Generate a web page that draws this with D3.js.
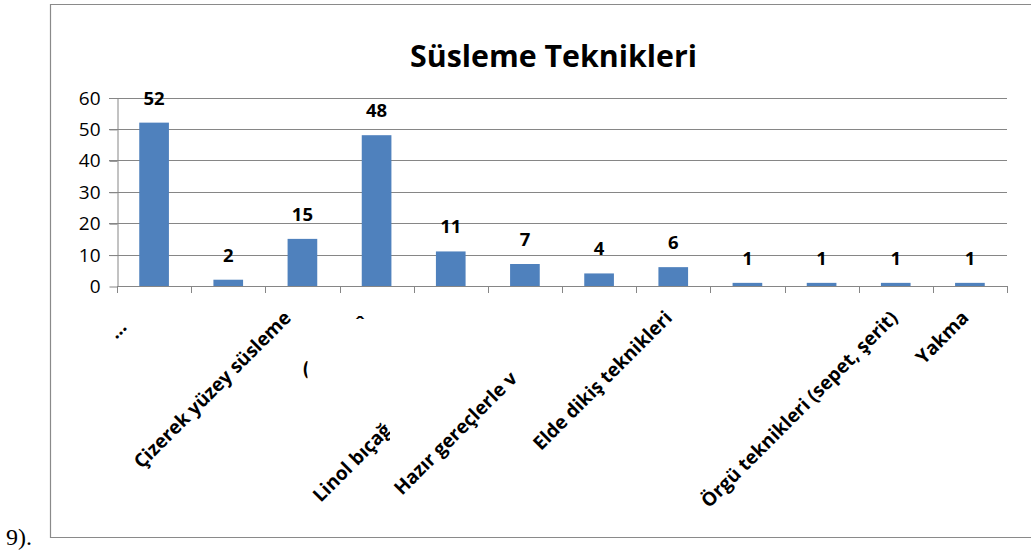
<!DOCTYPE html>
<html>
<head>
<meta charset="utf-8">
<script src="https://cdn.jsdelivr.net/npm/d3@7"></script>
<style>
  body { margin: 0; background: #fff; }
  svg { display: block; }
  text { font-family: "Open Sans", "Noto Sans", sans-serif; }
</style>
</head>
<body>
<svg id="chart" width="1031" height="557"></svg>
<script>
// Chart data
const title = "Süsleme Teknikleri";
const caption = "9).";
const categories = ["…", "Çizerek yüzey süsleme", "(", "ˆ", "Linol bıçağ", "Hazır gereçlerle v",
                    "", "Elde dikiş teknikleri", "", "", "Örgü teknikleri (sepet, şerit)", "Yakma"];
const values = [52, 2, 15, 48, 11, 7, 4, 6, 1, 1, 1, 1];
const yTicks = [0, 10, 20, 30, 40, 50, 60];

// Placement of each category label, relative to its band centre
// (dx, baseline y, rotation, anchor, optional right-hand clip edge)
const labelLayout = [
  { dx: -32,  y: 334, rot: -45, anchor: "middle" },
  { dx: 64,   y: 319, rot: -45, anchor: "end" },
  { dx: 0.6,  y: 375, rot: 0,   anchor: "start", clipX: 307.5 },
  { dx: -16.6,y: 331, rot: 0,   anchor: "middle" },
  { dx: -130, y: 503, rot: -45, anchor: "start", clipX: 390 },
  { dx: -123, y: 496, rot: -45, anchor: "start", clipX: 524 },
  null,
  { dx: 0,    y: 319, rot: -45, anchor: "end" },
  null,
  null,
  { dx: 3,    y: 319, rot: -45, anchor: "end" },
  { dx: 0,    y: 319, rot: -45, anchor: "end" }
];

const svg = d3.select("#chart");
const gridColor = "#868686";
const barColor = "#4f81bd";

const plot = { left: 117, right: 1007, top: 97.5, bottom: 286 };

const x = d3.scaleBand()
  .domain(d3.range(categories.length))
  .range([plot.left, plot.right])
  .paddingInner(0.6)
  .paddingOuter(0.3);

const y = d3.scaleLinear()
  .domain([0, 60])
  .range([plot.bottom, plot.top]);

// Outer frame (open on the right)
svg.append("path")
  .attr("d", "M1031,4.5 H50.5 V537.5 H1031")
  .attr("fill", "none")
  .attr("stroke", "#8a8a8a")
  .attr("stroke-width", 1.2);

// Caption to the left of the frame
svg.append("text")
  .attr("x", 6).attr("y", 545)
  .style("font-family", "'Liberation Serif', 'DejaVu Serif', serif")
  .style("font-size", "24px")
  .text(caption);

// Title
const titleText = svg.append("text")
  .attr("x", 553.5).attr("y", 66.5)
  .attr("text-anchor", "middle")
  .style("font-size", "30px")
  .style("font-weight", "bold")
  .text(title);
{
  const w = titleText.node().getComputedTextLength();
  const target = 287;
  if (Math.abs(w - target) > 3) {
    titleText.attr("textLength", target).attr("lengthAdjust", "spacingAndGlyphs");
  }
}

// Horizontal gridlines
svg.append("g")
  .selectAll("line")
  .data(yTicks.filter(t => t > 0))
  .join("line")
  .attr("x1", plot.left - 8).attr("x2", plot.right)
  .attr("y1", d => Math.round(y(d)) + 0.5)
  .attr("y2", d => Math.round(y(d)) + 0.5)
  .attr("stroke", gridColor)
  .attr("stroke-width", 1);

// Y axis
const yAxis = svg.append("g")
  .attr("transform", `translate(${plot.left + 0.5},0.5)`)
  .call(d3.axisLeft(y).tickValues(yTicks).tickSize(8).tickSizeOuter(0).tickPadding(9));
yAxis.select(".domain").attr("stroke", gridColor);
yAxis.selectAll(".tick line").attr("stroke", gridColor);
yAxis.selectAll(".tick text")
  .attr("fill", "#000")
  .style("font-family", "'Open Sans', sans-serif")
  .style("font-size", "19px");

// X axis line with ticks on the band boundaries
const boundaries = d3.range(categories.length + 1).map(i => plot.left + i * x.step());
svg.append("line")
  .attr("x1", plot.left).attr("x2", plot.right)
  .attr("y1", plot.bottom + 0.5).attr("y2", plot.bottom + 0.5)
  .attr("stroke", gridColor);
svg.append("g")
  .selectAll("line")
  .data(boundaries)
  .join("line")
  .attr("x1", d => Math.round(d) + 0.5).attr("x2", d => Math.round(d) + 0.5)
  .attr("y1", plot.bottom).attr("y2", plot.bottom + 7)
  .attr("stroke", gridColor);

// Bars
svg.append("g")
  .selectAll("rect")
  .data(values)
  .join("rect")
  .attr("x", (d, i) => x(i))
  .attr("width", x.bandwidth())
  .attr("y", d => y(d))
  .attr("height", d => y(0) - y(d))
  .attr("fill", barColor);

// Value labels
svg.append("g")
  .selectAll("text")
  .data(values)
  .join("text")
  .attr("x", (d, i) => x(i) + x.bandwidth() / 2)
  .attr("y", d => y(d) - 18)
  .attr("text-anchor", "middle")
  .style("font-size", "18.5px")
  .style("font-weight", "bold")
  .text(d => d);

// Category labels
const defs = svg.append("defs");
const labelGroup = svg.append("g");
categories.forEach((name, i) => {
  const lay = labelLayout[i];
  if (!lay || !name) return;
  const cx = x(i) + x.bandwidth() / 2 + lay.dx;
  const g = labelGroup.append("g");
  if (lay.clipX !== undefined) {
    const id = "clip-" + i;
    defs.append("clipPath").attr("id", id)
      .append("rect")
      .attr("x", 0).attr("y", 0)
      .attr("width", lay.clipX).attr("height", 557);
    g.attr("clip-path", `url(#${id})`);
  }
  g.append("text")
    .attr("transform", `translate(${cx},${lay.y}) rotate(${lay.rot})`)
    .attr("text-anchor", lay.anchor)
    .style("font-size", "19px")
    .style("font-weight", "bold")
    .text(name);
});
</script>
</body>
</html>
